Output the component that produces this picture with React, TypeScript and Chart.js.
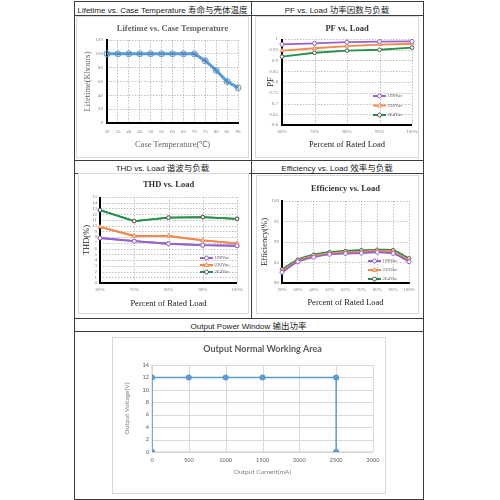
import React, { useEffect, useRef } from 'react';
import { Chart, registerables } from 'chart.js';

Chart.register(...registerables);

// ---------------- data ----------------
const lifeTempLabels = ['30', '35', '40', '45', '50', '55', '60', '65', '70', '75', '80', '85', '90'];
const lifeHours = [100, 100, 100, 100, 100, 100, 100, 100, 100, 90, 76, 60, 51];

const pfLoadLabels = ['60%', '70%', '80%', '90%', '100%'];
const pf198 = [0.975, 0.98, 0.985, 0.988, 0.989];
const pf230 = [0.946, 0.957, 0.967, 0.974, 0.978];
const pf264 = [0.918, 0.936, 0.946, 0.95, 0.96];

const thdLoadLabels = ['60%', '70%', '80%', '90%', '100%'];
const thd198 = [7.85, 7.3, 6.85, 6.6, 6.5];
const thd230 = [9.8, 8.2, 8.2, 7.45, 6.9];
const thd264 = [12.7, 10.8, 11.4, 11.5, 11.2];

const effLoadLabels = ['20%', '30%', '40%', '50%', '60%', '70%', '80%', '90%', '100%'];
const eff198 = [82.6, 85.2, 86.3, 87.0, 87.2, 87.3, 87.5, 87.2, 85.2];
const eff230 = [82.9, 85.4, 86.6, 87.2, 87.5, 87.6, 87.8, 87.6, 85.5];
const eff264 = [83.3, 85.7, 86.9, 87.5, 87.8, 88.0, 88.1, 88.0, 86.0];

const outCurrentMA = [0, 0, 500, 1000, 1500, 2500, 2500];
const outVoltageV = [0, 12, 12, 12, 12, 12, 0];

const seriesNames = ['198Vac', '230Vac', '264Vac'];

// ---------------- styles ----------------
const SERIF = '"Liberation Serif", "Times New Roman", serif';
const SANS = '"Liberation Sans", Arial, sans-serif';
const CJK = '"Noto Sans CJK SC", sans-serif';
const PURPLE = '#9563cf';
const ORANGE = '#f4894b';
const GREEN = '#27914a';
const BLUE = '#5b9bd5';

type Frame = {
  W: number; H: number; L: number; T: number; R: number; B: number;
  titleY: number; yTitleX: number; xTitleY: number; xGap: number; yGap: number;
};

type GridStyle = { gridColor: string; gridWidth: number; dash: number[]; borderColor: string; borderWidth: number };

const serifGrid: GridStyle = { gridColor: '#b0b0b0', gridWidth: 0.8, dash: [1.5, 1.5], borderColor: '#000000', borderWidth: 2 };
const excelGrid: GridStyle = { gridColor: '#d9d9d9', gridWidth: 1, dash: [], borderColor: '#d0d0d0', borderWidth: 1 };

function serifLook(colors: boolean) {
  return {
    titleFont: { family: SERIF, size: 8.5 }, titleColor: colors ? '#333' : undefined,
    axisFont: { family: SERIF, size: 8.5 }, axisColor: colors ? '#222' : undefined,
    tickFont: { family: SERIF, size: 5 }, tickColor: '#808080',
  };
}

function excelLook() {
  return {
    titleFont: { family: 'Lato, "Open Sans", sans-serif', size: 9, weight: 'bold' }, titleColor: '#595959',
    axisFont: { family: 'Lato, "Open Sans", sans-serif', size: 6.5 }, axisColor: '#808080',
    tickFont: { family: 'Lato, "Open Sans", sans-serif', size: 5.5 }, tickColor: '#595959',
  };
}

// --------------- grid plugin (style captured in closure) ---------------
function paintGrid(chart: any, g: GridStyle) {
  const ctx = chart.ctx;
  const ca = chart.chartArea;
  const xs = chart.scales.x;
  const ys = chart.scales.y;
  ctx.save();
  ctx.lineWidth = g.gridWidth;
  ctx.strokeStyle = g.gridColor;
  ctx.setLineDash(g.dash);
  for (let i = 0; i < xs.ticks.length; i++) {
    const px = Math.round(xs.getPixelForTick(i)) + 0.5;
    ctx.beginPath();
    ctx.moveTo(px, ca.top);
    ctx.lineTo(px, ca.bottom);
    ctx.stroke();
  }
  for (let i = 0; i < ys.ticks.length; i++) {
    const py = Math.round(ys.getPixelForTick(i)) + 0.5;
    ctx.beginPath();
    ctx.moveTo(ca.left, py);
    ctx.lineTo(ca.right, py);
    ctx.stroke();
  }
  ctx.setLineDash([]);
  ctx.lineWidth = g.borderWidth;
  ctx.strokeStyle = g.borderColor;
  ctx.beginPath();
  ctx.moveTo(ca.left, ca.top);
  ctx.lineTo(ca.left, ca.bottom);
  ctx.lineTo(ca.right, ca.bottom);
  ctx.stroke();
  ctx.restore();
}

function gridPlugin(g: GridStyle, after: boolean): any {
  if (after) {
    return {
      id: 'gridPaint',
      afterDatasetsDraw(chart: any) {
        paintGrid(chart, g);
        const metas = chart.getSortedVisibleDatasetMetas();
        for (let i = metas.length - 1; i >= 0; i--) metas[i].controller.draw();
      },
    };
  }
  return {
    id: 'gridPaint',
    beforeDatasetsDraw(chart: any) {
      paintGrid(chart, g);
    },
  };
}

// --------------- inside legend plugin ---------------
function drawMarker(ctx: CanvasRenderingContext2D, style: string, x: number, y: number, r: number, fill: string, stroke: string) {
  ctx.save();
  ctx.beginPath();
  if (style === 'triangle') {
    ctx.moveTo(x, y - r * 1.2);
    ctx.lineTo(x + r * 1.1, y + r * 0.7);
    ctx.lineTo(x - r * 1.1, y + r * 0.7);
    ctx.closePath();
  } else {
    ctx.arc(x, y, r, 0, Math.PI * 2);
  }
  ctx.fillStyle = fill;
  ctx.fill();
  ctx.lineWidth = 1;
  ctx.strokeStyle = stroke;
  ctx.stroke();
  ctx.restore();
}

function legendPlugin(pos: { x: number; y: number; gap: number; len: number }): any {
  return {
    id: 'insideLegend',
    afterDatasetsDraw(chart: any) {
      const { ctx, chartArea } = chart;
      const x0 = chartArea.left + pos.x;
      chart.data.datasets.forEach((ds: any, i: number) => {
        const y = chartArea.top + pos.y + i * pos.gap;
        ctx.save();
        ctx.strokeStyle = ds.borderColor;
        ctx.lineWidth = 2;
        ctx.beginPath();
        ctx.moveTo(x0, y);
        ctx.lineTo(x0 + pos.len, y);
        ctx.stroke();
        drawMarker(ctx, ds.pointStyle, x0 + pos.len / 2, y, 2, '#fff', ds.pointBorderColor);
        ctx.fillStyle = '#595959';
        ctx.font = `5px ${SERIF}`;
        ctx.textBaseline = 'middle';
        ctx.textAlign = 'left';
        ctx.fillText(ds.label, x0 + pos.len + 1.5, y);
        ctx.restore();
      });
    },
  };
}

// --------------- options builder ---------------
function buildOptions(
  f: Frame, look: any, builtinGrid: GridStyle | null, title: string, xTitle: string, yTitle: string,
  y: { min: number; max: number; step: number; fmt?: (v: number) => string },
  x: { min: number; max: number; step: number } | null,
) {
  const tlh = look.titleFont.size * 1.2;
  const alh = look.axisFont.size * 1.2;
  const xGrid: any = builtinGrid
    ? { color: builtinGrid.gridColor, lineWidth: builtinGrid.gridWidth, drawTicks: true, tickLength: f.xGap, tickColor: 'rgba(0,0,0,0)' }
    : { drawOnChartArea: false, drawTicks: true, tickLength: f.xGap, tickColor: 'rgba(0,0,0,0)' };
  const yGrid: any = builtinGrid
    ? { color: builtinGrid.gridColor, lineWidth: builtinGrid.gridWidth, drawTicks: false }
    : { drawOnChartArea: false, drawTicks: false };
  const border: any = builtinGrid
    ? { display: true, color: builtinGrid.borderColor, width: builtinGrid.borderWidth, dash: builtinGrid.dash.slice() }
    : { display: false };
  const axisTitle = (text: string, padding: any) => {
    const t: any = { display: true, text, font: { ...look.axisFont }, padding };
    if (look.axisColor) t.color = look.axisColor;
    return t;
  };
  const xScale: any = {
    type: x ? 'linear' : 'category',
    offset: false,
    afterFit: (s: any) => { s.height = f.H - f.B; },
    grid: xGrid,
    border: { ...border },
    ticks: {
      padding: 0, font: { ...look.tickFont }, color: look.tickColor, autoSkip: false, maxRotation: 0, minRotation: 0,
    },
    title: axisTitle(xTitle, { top: 0, bottom: Math.max(0, f.H - f.xTitleY - alh / 2) }),
  };
  if (x) {
    xScale.min = x.min;
    xScale.max = x.max;
    xScale.ticks.stepSize = x.step;
    xScale.ticks.callback = (v: any) => String(v);
  }
  const yScale: any = {
    type: 'linear',
    min: y.min,
    max: y.max,
    afterFit: (s: any) => { s.width = f.L; },
    grid: yGrid,
    border: { ...border },
    ticks: { stepSize: y.step, padding: f.yGap, font: { ...look.tickFont }, color: look.tickColor, autoSkip: false },
    title: axisTitle(yTitle, { top: Math.max(0, f.yTitleX - alh / 2), bottom: 0 }),
  };
  if (y.fmt) {
    const fmt = y.fmt;
    yScale.ticks.callback = (v: any) => fmt(Number(v));
  }
  const titleOpts: any = {
    display: true, text: title, font: { ...look.titleFont }, fullSize: false,
    padding: { top: Math.max(0, f.titleY - tlh / 2), bottom: Math.max(0, f.T - f.titleY - tlh / 2) },
  };
  if (look.titleColor) titleOpts.color = look.titleColor;
  return {
    responsive: false,
    animation: false,
    layout: { padding: { left: 0, top: 0, right: f.W - f.R, bottom: 0 } },
    scales: { x: xScale, y: yScale },
    plugins: { legend: { display: false }, title: titleOpts },
  };
}

function vacDatasets(a: number[], b: number[], c: number[], tension: number) {
  return [
    {
      label: seriesNames[0], data: a, borderColor: PURPLE, borderWidth: 1.8, tension,
      pointStyle: 'circle', pointRadius: 2, pointBackgroundColor: '#fff', pointBorderColor: PURPLE, pointBorderWidth: 1,
    },
    {
      label: seriesNames[1], data: b, borderColor: ORANGE, borderWidth: 1.8, tension,
      pointStyle: 'triangle', pointRadius: 2.2, pointBackgroundColor: '#fff', pointBorderColor: ORANGE, pointBorderWidth: 1,
    },
    {
      label: seriesNames[2], data: c, borderColor: GREEN, borderWidth: 1.8, tension,
      pointStyle: 'circle', pointRadius: 1.8, pointBackgroundColor: '#fff', pointBorderColor: '#555', pointBorderWidth: 1,
    },
  ];
}

const fmt2 = (v: number) => String(Number(v.toFixed(2)));

// --------------- chart configs ---------------
type Rect = { x: number; y: number; w: number; h: number };

const rect1: Rect = { x: 77, y: 17, w: 171, h: 140 };
const frame1: Frame = { W: 171, H: 140, L: 30, T: 23, R: 161, B: 106, titleY: 12, yTitleX: 11, xTitleY: 128, xGap: 6, yGap: 4 };

const rect2: Rect = { x: 256, y: 17, w: 162, h: 140 };
const frame2: Frame = { W: 162, H: 140, L: 26, T: 22, R: 156, B: 108, titleY: 12, yTitleX: 15, xTitleY: 128, xGap: 4, yGap: 4 };

const rect3: Rect = { x: 79, y: 174, w: 169, h: 139 };
const frame3: Frame = { W: 169, H: 139, L: 21, T: 23, R: 158, B: 109, titleY: 11, yTitleX: 8, xTitleY: 130, xGap: 4, yGap: 3 };

const rect4: Rect = { x: 257, y: 176, w: 161, h: 137 };
const frame4: Frame = { W: 161, H: 137, L: 25, T: 25, R: 152, B: 107, titleY: 13, yTitleX: 8, xTitleY: 127, xGap: 4, yGap: 3 };

const rect5: Rect = { x: 113, y: 338, w: 272, h: 155 };
const frame5: Frame = { W: 272, H: 155, L: 39, T: 27, R: 260, B: 114, titleY: 11, yTitleX: 14, xTitleY: 134, xGap: 4.5, yGap: 3 };

function makeLifetime(): any {
  return {
    type: 'line',
    data: {
      labels: lifeTempLabels,
      datasets: [{ label: 'Lifetime', data: lifeHours, borderColor: BLUE }],
    },
    options: buildOptions(frame1, serifLook(false), serifGrid, 'Lifetime vs. Case Temperature', 'Case Temperature(\u2103)', 'Lifetime(Khours)',
      { min: 0, max: 120, step: 20 }, null),
  };
}

function makePF(): any {
  return {
    type: 'line',
    data: { labels: pfLoadLabels, datasets: vacDatasets(pf198, pf230, pf264, 0) },
    options: buildOptions(frame2, serifLook(true), null, 'PF vs. Load', 'Percent of Rated Load', 'PF',
      { min: 0.6, max: 1, step: 0.05, fmt: fmt2 }, null),
    plugins: [gridPlugin(serifGrid, false), legendPlugin({ x: 91, y: 57, gap: 9.5, len: 13 })],
  };
}

function makeTHD(): any {
  return {
    type: 'line',
    data: { labels: thdLoadLabels, datasets: vacDatasets(thd198, thd230, thd264, 0) },
    options: buildOptions(frame3, serifLook(true), null, 'THD vs. Load', 'Percent of Rated Load', 'THD(%)',
      { min: 0, max: 15, step: 1 }, null),
    plugins: [gridPlugin(serifGrid, true), legendPlugin({ x: 100, y: 61, gap: 7, len: 13 })],
  };
}

function makeEff(): any {
  return {
    type: 'line',
    data: { labels: effLoadLabels, datasets: vacDatasets(eff198, eff230, eff264, 0.25) },
    options: buildOptions(frame4, serifLook(true), serifGrid, 'Efficiency vs. Load', 'Percent of Rated Load', 'Efficiency(%)',
      { min: 80, max: 100, step: 5 }, null),
    plugins: [legendPlugin({ x: 86, y: 60, gap: 9, len: 13 })],
  };
}

function makeOutput(): any {
  return {
    type: 'scatter',
    data: {
      datasets: [{
        label: 'Output', data: outCurrentMA.map((c, i) => ({ x: c, y: outVoltageV[i] })),
        showLine: true, borderColor: BLUE, borderWidth: 1.5,
        pointRadius: 2.3, pointBackgroundColor: BLUE, pointBorderColor: BLUE,
      }],
    },
    options: buildOptions(frame5, excelLook(), null, 'Output Normal Working Area', 'Output Current(mA)', 'Output Voltage(V)',
      { min: 0, max: 14, step: 2 }, { min: 0, max: 3000, step: 500 }),
    plugins: [gridPlugin(excelGrid, false)],
  };
}

// --------------- components ---------------
function ChartCanvas({ rect, make }: { rect: Rect; make: () => any }) {
  const ref = useRef<HTMLCanvasElement | null>(null);
  useEffect(() => {
    if (!ref.current) return;
    const chart = new Chart(ref.current, make());
    return () => chart.destroy();
  }, []);
  return (
    <>
      <div style={{
        position: 'absolute', left: rect.x - 1, top: rect.y - 1, width: rect.w, height: rect.h,
        border: '1px solid #d9d9d9', boxSizing: 'content-box',
      }} />
      <canvas ref={ref} width={rect.w} height={rect.h}
        style={{ position: 'absolute', left: rect.x, top: rect.y, width: rect.w, height: rect.h }} />
    </>
  );
}

const LINE = '#3c3c3c';

function HLine({ y, x1, x2 }: { y: number; x1: number; x2: number }) {
  return <div style={{ position: 'absolute', left: x1, top: y, width: x2 - x1 + 1, height: 1, background: LINE }} />;
}
function VLine({ x, y1, y2 }: { x: number; y1: number; y2: number }) {
  return <div style={{ position: 'absolute', left: x, top: y1, width: 1, height: y2 - y1 + 1, background: LINE }} />;
}

function Header({ cx, cy, latin, cjk }: { cx: number; cy: number; latin: string; cjk: string }) {
  return (
    <div style={{
      position: 'absolute', left: cx - 120, top: cy - 6, width: 240, height: 12, lineHeight: '12px',
      textAlign: 'center', whiteSpace: 'nowrap', color: '#1a1a1a', fontFamily: SANS, fontSize: 8,
    }}>
      {latin} <span style={{ fontFamily: CJK, fontSize: 8.5 }}>{cjk}</span>
    </div>
  );
}

export default function App() {
  return (
    <div style={{ position: 'absolute', left: 0, top: 0, width: 500, height: 500 }}>
      <HLine y={1} x1={74} x2={423} />
      <HLine y={15} x1={74} x2={423} />
      <HLine y={160} x1={74} x2={423} />
      <HLine y={173} x1={74} x2={423} />
      <HLine y={318} x1={74} x2={423} />
      <HLine y={331} x1={74} x2={423} />
      <HLine y={499} x1={74} x2={423} />
      <VLine x={74} y1={1} y2={499} />
      <VLine x={423} y1={1} y2={499} />
      <VLine x={251} y1={1} y2={318} />

      <Header cx={162.5} cy={8.5} latin="Lifetime vs. Case Temperature" cjk="寿命与壳体温度" />
      <Header cx={337} cy={8.5} latin="PF vs. Load" cjk="功率因数与负载" />
      <Header cx={162.5} cy={167} latin="THD vs. Load" cjk="谐波与负载" />
      <Header cx={337} cy={167} latin="Efficiency vs. Load" cjk="效率与负载" />
      <Header cx={248.5} cy={325} latin="Output Power Window" cjk="输出功率" />

      <ChartCanvas rect={rect1} make={makeLifetime} />
      <ChartCanvas rect={rect2} make={makePF} />
      <ChartCanvas rect={rect3} make={makeTHD} />
      <ChartCanvas rect={rect4} make={makeEff} />
      <ChartCanvas rect={rect5} make={makeOutput} />
    </div>
  );
}
